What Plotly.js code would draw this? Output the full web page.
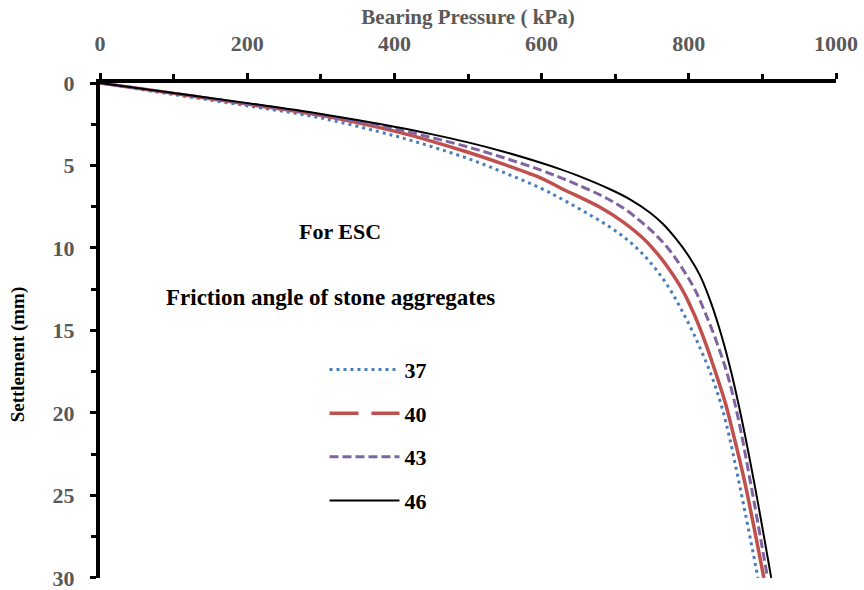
<!DOCTYPE html>
<html>
<head>
<meta charset="utf-8">
<script src="https://cdn.plot.ly/plotly-3.0.1.min.js"></script>
<style>html,body{margin:0;padding:0;background:#fff;}#chart{width:864px;height:590px;}</style>
</head>
<body>
<div id="chart"></div>
<script>
// Bearing pressure (kPa) and settlement (mm)
const p37 = [0, 100, 200, 300, 400, 450, 500, 550, 600, 630, 660, 690, 715, 738, 758, 775, 790, 805, 820, 835, 850, 870, 894];
const s37 = [0, 0.7, 1.38, 2.12, 3.2, 3.85, 4.58, 5.45, 6.4, 7.1, 7.85, 8.65, 9.45, 10.4, 11.45, 12.55, 13.75, 15.05, 16.55, 18.25, 20.5, 24.6, 30];

const p40 = [0, 100, 200, 300, 400, 450, 500, 550, 600, 625, 680, 710, 740, 760, 775, 792, 808, 823, 836, 849, 860, 876, 902];
const s40 = [0, 0.63, 1.28, 1.96, 2.92, 3.52, 4.2, 4.95, 5.78, 6.35, 7.55, 8.4, 9.5, 10.5, 11.4, 12.6, 14.1, 15.8, 17.5, 19.3, 21.2, 24.2, 30];

const p43 = [0, 100, 200, 300, 400, 450, 500, 550, 600, 640, 680, 710, 735, 755, 775, 792, 808, 822, 837, 852, 866, 885, 907];
const s43 = [0, 0.62, 1.26, 1.92, 2.78, 3.3, 3.88, 4.55, 5.3, 6.0, 6.8, 7.55, 8.4, 9.2, 10.2, 11.3, 12.5, 13.9, 15.6, 17.6, 20.1, 24.5, 30];

const p46 = [0, 100, 200, 300, 400, 450, 500, 550, 600, 625, 650, 693, 720, 747, 765, 783, 800, 815, 830, 845, 858, 872, 890, 912];
const s46 = [0, 0.6, 1.22, 1.88, 2.65, 3.1, 3.6, 4.18, 4.85, 5.22, 5.63, 6.44, 7.05, 7.85, 8.55, 9.47, 10.5, 11.65, 13.3, 15.4, 17.6, 20.4, 24.5, 30];

const seriesNames = ["37", "40", "43", "46"];

const serif = "Liberation Serif, Times New Roman, serif";
const lineShape = {shape: "spline", smoothing: 1.0};

const traces = [
  {x: p37, y: s37, name: seriesNames[0], mode: "lines", legendgroup: "a",
   line: Object.assign({color: "#4A7EBB", width: 3, dash: "3px,4px"}, lineShape)},
  {x: p40, y: s40, name: seriesNames[1], mode: "lines", showlegend: false, legendgroup: "b",
   line: Object.assign({color: "#C0504D", width: 3.5}, lineShape)},
  {x: [null], y: [null], name: seriesNames[1], mode: "lines", legendgroup: "b",
   line: {color: "#C0504D", width: 3.5, dash: "29px,13px"}},
  {x: p43, y: s43, name: seriesNames[2], mode: "lines", legendgroup: "c",
   line: Object.assign({color: "#8064A2", width: 3, dash: "9px,4px"}, lineShape)},
  {x: p46, y: s46, name: seriesNames[3], mode: "lines", legendgroup: "d",
   line: Object.assign({color: "#000000", width: 2}, lineShape)}
];

const layout = {
  width: 864, height: 590,
  margin: {l: 100, r: 28, t: 83, b: 12},
  paper_bgcolor: "#fff", plot_bgcolor: "#fff",
  showlegend: true,
  legend: {
    x: 0.305, y: 0.463, xanchor: "left", yanchor: "top",
    font: {family: serif, size: 22, color: "#000", weight: "bold"},
    itemwidth: 70, traceorder: "grouped", tracegroupgap: 12,
    bgcolor: "rgba(0,0,0,0)"
  },
  xaxis: {
    side: "top", range: [0, 1000], dtick: 200, tick0: 0,
    showgrid: false, zeroline: false,
    showline: true, linecolor: "#000", linewidth: 4,
    ticks: "outside", ticklen: 6, tickwidth: 3, tickcolor: "#000",
    minor: {dtick: 100, ticks: "outside", ticklen: 5, tickwidth: 3, tickcolor: "#000"},
    ticklabelstandoff: 13, ticklabeloverflow: "allow",
    tickfont: {family: serif, size: 22, color: "#595959", weight: "bold"},
    title: {text: "Bearing Pressure ( kPa)", standoff: 2,
            font: {family: serif, size: 21, color: "#595959", weight: "bold"}}
  },
  yaxis: {
    range: [30.01, 0], dtick: 5, tick0: 0,
    showgrid: false, zeroline: false,
    showline: true, linecolor: "#000", linewidth: 4,
    ticks: "outside", ticklen: 6, tickwidth: 3, tickcolor: "#000",
    minor: {dtick: 2.5, ticks: "outside", ticklen: 5, tickwidth: 3, tickcolor: "#000"},
    ticklabelstandoff: 11, ticklabeloverflow: "allow",
    tickfont: {family: serif, size: 22, color: "#595959", weight: "bold"}
  },
  annotations: [
    {text: "Settlement (mm)", xref: "paper", yref: "paper", x: -0.111, y: 0.4525,
     xanchor: "center", yanchor: "middle", textangle: -90, showarrow: false,
     font: {family: serif, size: 19, color: "#000", weight: "bold"}},
    {text: "For ESC", xref: "paper", yref: "paper", x: 0.326, y: 0.699,
     xanchor: "center", yanchor: "middle",
     showarrow: false, font: {family: serif, size: 22, color: "#000", weight: "bold"}},
    {text: "Friction angle of stone aggregates", xref: "paper", yref: "paper", x: 0.3125, y: 0.5657,
     xanchor: "center", yanchor: "middle",
     showarrow: false, font: {family: serif, size: 23, color: "#000", weight: "bold"}}
  ]
};

Plotly.newPlot("chart", traces, layout, {displayModeBar: false, staticPlot: true});
</script>
</body>
</html>
